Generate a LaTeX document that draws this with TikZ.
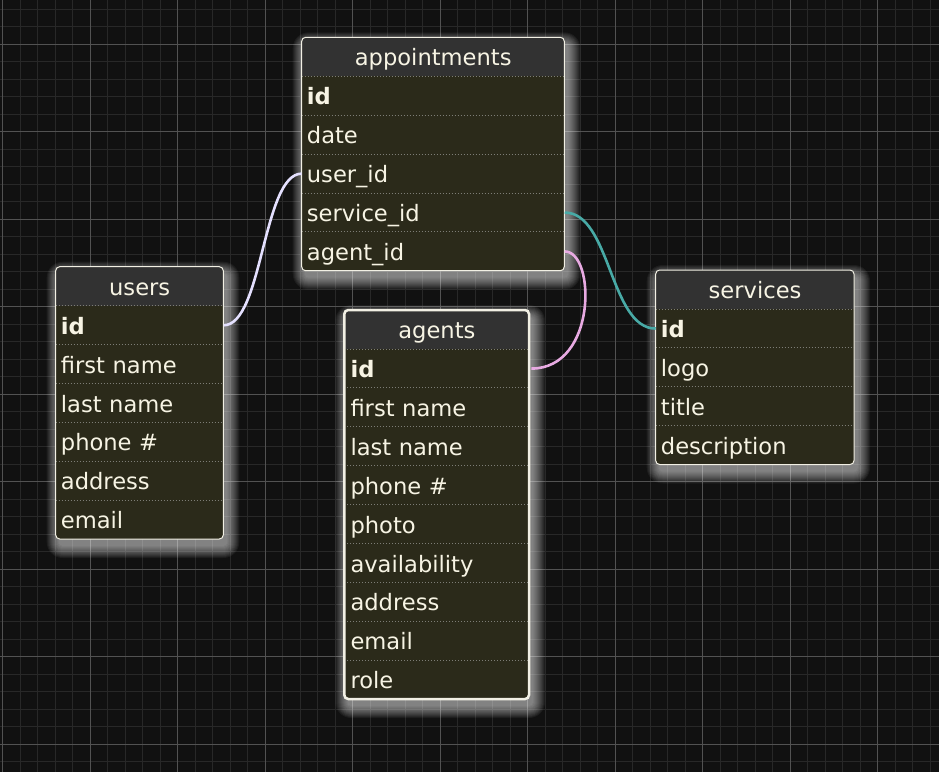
\documentclass[tikz,border=0pt]{standalone}
\usepackage{fontspec}
\setmainfont{DejaVu Sans}
\definecolor{bg}{RGB}{17,17,17}
\definecolor{gridminor}{RGB}{40,40,40}
\definecolor{gridmajor}{RGB}{82,82,82}
\definecolor{headfill}{RGB}{50,50,50}
\definecolor{rowfill}{RGB}{43,42,26}
\definecolor{txt}{RGB}{247,244,228}
\definecolor{sepcol}{RGB}{125,125,118}
\definecolor{edgecol}{RGB}{242,240,228}
\definecolor{lav}{RGB}{228,224,255}
\definecolor{tealc}{RGB}{72,170,166}
\definecolor{pinkc}{RGB}{232,170,226}
\newcommand\rowh{38.9}
\newcommand\tblglow[4]{% x y w n
  \foreach \k in {0,...,12}{%
    \fill[white, opacity=0.05, rounded corners={4pt+\k*1pt}]
      ({#1+3-\k},{#2+7-\k}) rectangle ({#1+#3+4+\k},{#2+#4*\rowh+7+\k});}%
}
\newcommand\tblframe[5]{% x y w n borderwidth
  \fill[rowfill, rounded corners=4pt] (#1,#2) rectangle ({#1+#3},{#2+#4*\rowh});
  \fill[headfill, rounded corners=4pt] (#1,#2) rectangle ({#1+#3},{#2+\rowh+6});
  \fill[rowfill] (#1,{#2+\rowh}) rectangle ({#1+#3},{#2+\rowh+7});
  \pgfmathtruncatemacro\nsep{#4-1}%
  \foreach \j in {1,...,\nsep}{%
    \draw[sepline] (#1,{#2+\j*\rowh}) -- ({#1+#3},{#2+\j*\rowh});}%
  \draw[edgecol, line width=#5, rounded corners=4pt] (#1,#2) rectangle ({#1+#3},{#2+#4*\rowh});
}
\tikzset{
  rowtxt/.style={anchor=north west, inner xsep=5pt, inner ysep=0pt,
    minimum height=38.9pt, text height=20pt, text depth=2pt, align=left,
    text=txt, font=\fontsize{22.6}{26}\selectfont},
  headtxt/.style={anchor=north west, inner xsep=0pt, inner ysep=0pt,
    minimum height=38.9pt, text height=20pt, text depth=2pt, align=center,
    text=txt, font=\fontsize{22.6}{26}\selectfont},
  sepline/.style={sepcol, line width=0.8pt, dash pattern=on 1pt off 2pt},
  conn/.style={line width=2.6pt},
}
\begin{document}
\begin{tikzpicture}[x=1pt, y=-1pt]
\useasboundingbox (0,0) rectangle (939,772);
\fill[bg] (0,0) rectangle (939,772);
% grid
\foreach \i in {0,...,53} \draw[gridminor, line width=1pt] ({2.7+17.5*\i},0) -- ({2.7+17.5*\i},772);
\foreach \j in {0,...,43} \draw[gridminor, line width=1pt] (0,{9.2+17.5*\j}) -- (939,{9.2+17.5*\j});
\foreach \i in {0,...,10} \draw[gridmajor, line width=1.3pt] ({2.7+87.5*\i},0) -- ({2.7+87.5*\i},772);
\foreach \j in {0,...,8} \draw[gridmajor, line width=1.3pt] (0,{44.2+87.5*\j}) -- (939,{44.2+87.5*\j});
% glows
\tblglow{301.7}{37.3}{262.6}{6}
\tblglow{55.7}{266.7}{167.6}{7}
\tblglow{655.7}{270}{198.3}{5}
\tblglow{344.3}{310}{184.7}{10}
% frames
\tblframe{301.7}{37.3}{262.6}{6}{1pt}
\tblframe{55.7}{266.7}{167.6}{7}{1pt}
\tblframe{655.7}{270}{198.3}{5}{1pt}
\tblframe{344.3}{310}{184.7}{10}{2.5pt}
% appointments
\node[headtxt, text width=262.6pt] (ap-h) at (301.7,37.3) {appointments};
\node[rowtxt, text width=252.6pt] (ap-id) at (301.7,76.2) {\textbf{id}};
\node[rowtxt, text width=252.6pt] (ap-date) at (301.7,115.1) {date};
\node[rowtxt, text width=252.6pt] (ap-user) at (301.7,154.0) {user\_id};
\node[rowtxt, text width=252.6pt] (ap-service) at (301.7,192.9) {service\_id};
\node[rowtxt, text width=252.6pt] (ap-agent) at (301.7,231.8) {agent\_id};
% users
\node[headtxt, text width=167.6pt] (us-h) at (55.7,266.7) {users};
\node[rowtxt, text width=157.6pt] (us-id) at (55.7,305.6) {\textbf{id}};
\node[rowtxt, text width=157.6pt] (us-first) at (55.7,344.5) {first name};
\node[rowtxt, text width=157.6pt] (us-last) at (55.7,383.4) {last name};
\node[rowtxt, text width=157.6pt] (us-phone) at (55.7,422.3) {phone \#};
\node[rowtxt, text width=157.6pt] (us-address) at (55.7,461.2) {address};
\node[rowtxt, text width=157.6pt] (us-email) at (55.7,500.1) {email};
% services
\node[headtxt, text width=198.3pt] (sv-h) at (655.7,270) {services};
\node[rowtxt, text width=188.3pt] (sv-id) at (655.7,308.9) {\textbf{id}};
\node[rowtxt, text width=188.3pt] (sv-logo) at (655.7,347.8) {logo};
\node[rowtxt, text width=188.3pt] (sv-title) at (655.7,386.7) {title};
\node[rowtxt, text width=188.3pt] (sv-desc) at (655.7,425.6) {description};
% agents
\node[headtxt, text width=184.7pt] (ag-h) at (344.3,310) {agents};
\node[rowtxt, text width=174.7pt, inner xsep=6pt] (ag-id) at (344.3,348.9) {\textbf{id}};
\node[rowtxt, text width=172.7pt, inner xsep=6pt] (ag-first) at (344.3,387.8) {first name};
\node[rowtxt, text width=172.7pt, inner xsep=6pt] (ag-last) at (344.3,426.7) {last name};
\node[rowtxt, text width=172.7pt, inner xsep=6pt] (ag-phone) at (344.3,465.6) {phone \#};
\node[rowtxt, text width=172.7pt, inner xsep=6pt] (ag-photo) at (344.3,504.5) {photo};
\node[rowtxt, text width=172.7pt, inner xsep=6pt] (ag-avail) at (344.3,543.4) {availability};
\node[rowtxt, text width=172.7pt, inner xsep=6pt] (ag-address) at (344.3,582.3) {address};
\node[rowtxt, text width=172.7pt, inner xsep=6pt] (ag-email) at (344.3,621.2) {email};
\node[rowtxt, text width=172.7pt, inner xsep=6pt] (ag-role) at (344.3,660.1) {role};
% connectors
\draw[conn, lav] (us-id.east) .. controls +(39,0) and +(-39,0) .. (ap-user.west);
\draw[conn, tealc] (ap-service.east) .. controls +(46,0) and +(-46,0) .. (sv-id.west);
\draw[conn, pinkc] (ap-agent.east) .. controls +(31,0) and +(66,0) .. (ag-id.east);
\end{tikzpicture}
\end{document}
